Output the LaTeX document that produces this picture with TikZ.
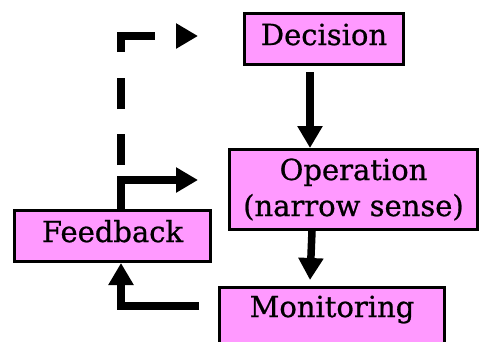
\documentclass[tikz,border=0pt]{standalone}
\usepackage{fontspec}
\setmainfont{DejaVu Serif}
\newfontfamily\boxfont[RawFeature={embolden=0.8}]{DejaVu Serif}
\usetikzlibrary{arrows.meta,calc}
\definecolor{boxpink}{RGB}{255,153,255}
\begin{document}
\begin{tikzpicture}[x=1pt,y=-1pt,
  box/.style={draw=black, line width=3pt, fill=boxpink, inner sep=0pt,
    font=\boxfont\fontsize{29}{36}\selectfont},
  arr/.style={line width=7.5pt, line join=miter, -{Triangle[length=22pt,width=24pt]}},
  dasharr/.style={arr, dash pattern=on 31pt off 25pt on 31pt off 26pt on 50pt off 40pt},
]
\clip (0,0) rectangle (479,341);
\node[box, minimum width=159pt, minimum height=51pt, text height=12pt, text depth=0pt] (dec) at (324,39) {Decision};
\node[box, minimum width=248pt, minimum height=80pt, align=center] (op) at (353.5,189.5) {Operation\\(narrow sense)};
\node[box, minimum width=196pt, minimum height=51pt, text height=12pt, text depth=0pt] (fb) at (112.5,236) {Feedback};
\node[box, minimum width=225pt, minimum height=65pt, text height=0pt, text depth=6pt] (mon) at (332,320) {Monitoring};
\coordinate (xa) at (121,0);
\coordinate (xb) at (310,0);
\coordinate (xc) at (312,0);
\coordinate (ya) at (0,180);
\coordinate (yb) at (0,36);
\coordinate (yc) at (0,306);
% Decision -> Operation
\draw[arr] ($(dec.south -| xb)+(0,6)$) -- (op.north -| xb);
% Operation -> Monitoring
\draw[arr] (op.south -| xc) -- ($(mon.north -| xb)+(0,-6)$);
% Monitoring -> Feedback
\draw[arr] ($(mon.west |- yc)+(-19,0)$) -- (xa |- yc) -- (fb.south -| xa);
% Feedback -> Operation
\draw[arr] (fb.north -| xa) -- (xa |- ya) -- ($(op.west |- ya)+(-30,0)$);
% Feedback -> Decision (dashed)
\draw[dasharr] ($(fb.north -| xa)+(0,-44)$) -- (xa |- yb) -- ($(op.west |- yb)+(-30,0)$);
\end{tikzpicture}
\end{document}
